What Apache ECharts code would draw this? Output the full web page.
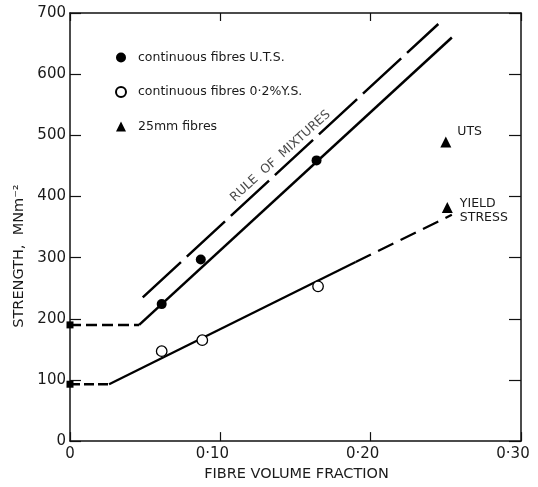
<!DOCTYPE html>
<html>
<head>
<meta charset="utf-8">
<script src="https://cdn.jsdelivr.net/npm/echarts@6/dist/echarts.min.js"></script>
<style>html,body{margin:0;padding:0;background:#fff;}#c{width:538px;height:487px;}</style>
</head>
<body>
<div id="c"></div>
<script>
// ---- data ----
const xTickLabels = ['0', '0·10', '0·20', '0·30'];
const yTickLabels = ['0', '100', '200', '300', '400', '500', '600', '700'];

const utsPoints = [[0.061, 224], [0.087, 297], [0.164, 459]];
const ysPoints = [[0.061, 147], [0.088, 165], [0.165, 253]];
const choppedPoints = [[0.250, 489], [0.251, 382]];
const choppedLabels = ['UTS', 'YIELD\nSTRESS'];
const matrixPoints = [[0, 190], [0, 93]];

const utsMatrixLine = [[0, 190], [0.046, 190]];
const utsFitLine = [[0.046, 190], [0.254, 660]];
const ruleOfMixturesLine = [[0.0484, 235], [0.245, 682]];
const ysMatrixLine = [[0, 93], [0.026, 93]];
const ysFitSolid = [[0.026, 93], [0.19, 293]];
const ysFitDashed = [[0.19, 293], [0.254, 370]];
const ruleLabelPos = [0.140, 466];

const FONT = 'DejaVu Sans';
const INK = '#1a1a1a';

const chart = echarts.init(document.getElementById('c'));

function lineSeries(data, type, width) {
  return {
    type: 'line', data: data, symbol: 'none', silent: true,
    lineStyle: { color: '#000', width: width || 2.5, type: type || 'solid', cap: 'butt' },
    z: 2, animation: false
  };
}

chart.setOption({
  animation: false,
  backgroundColor: '#fff',
  grid: { left: 70, right: 17, top: 13, bottom: 42 },
  legend: {
    orient: 'vertical', left: 110, top: 46, itemWidth: 10, itemHeight: 10, itemGap: 21.5,
    textStyle: { fontFamily: FONT, fontSize: 12.5, color: INK, padding: [0, 0, 0, 7] },
    data: [
      { name: 'continuous fibres U.T.S.', icon: 'circle' },
      { name: 'continuous fibres 0·2%Y.S.', icon: 'circle' },
      { name: '25mm fibres', icon: 'triangle' }
    ]
  },
  xAxis: [{
    type: 'value', min: 0, max: 0.3, interval: 0.1,
    name: 'FIBRE VOLUME FRACTION', nameLocation: 'middle', nameGap: 21,
    nameTextStyle: { fontFamily: FONT, fontSize: 14.5, color: INK, padding: [0, 0, 0, 2] },
    axisLine: { show: true, onZero: false, lineStyle: { color: '#111', width: 1.5 } },
    axisTick: { show: true, inside: true, length: 9, lineStyle: { color: '#111', width: 1.2 } },
    splitLine: { show: false },
    axisLabel: {
      margin: 6,
      formatter: function (v) {
        const i = Math.round(v / 0.1);
        return i === 0 ? '{z|' + xTickLabels[i] + '}' : '{n|' + xTickLabels[i] + '}';
      },
      rich: {
        z: { fontFamily: FONT, fontSize: 15, color: INK },
        n: { fontFamily: FONT, fontSize: 15, color: INK, padding: [0, 16, 0, 0] }
      }
    }
  }, {
    type: 'value', min: 0, max: 0.3, interval: 0.1, position: 'top',
    axisLine: { show: true, onZero: false, lineStyle: { color: '#111', width: 1.5 } },
    axisTick: { show: true, inside: true, length: 8, lineStyle: { color: '#111', width: 1.2 } },
    axisLabel: { show: false }, splitLine: { show: false }
  }],
  yAxis: [{
    type: 'value', min: 0, max: 700, interval: 100,
    name: 'STRENGTH,  MNm⁻²', nameLocation: 'middle', nameGap: 43,
    nameTextStyle: { fontFamily: FONT, fontSize: 14.5, color: INK, padding: [0, 58, 0, 0] },
    axisLine: { show: true, onZero: false, lineStyle: { color: '#111', width: 1.5 } },
    axisTick: { show: true, inside: true, length: 11, lineStyle: { color: '#111', width: 1.2 } },
    splitLine: { show: false },
    axisLabel: {
      margin: 4, fontFamily: FONT, fontSize: 15, color: INK,
      formatter: function (v) { return yTickLabels[Math.round(v / 100)]; }
    }
  }, {
    type: 'value', min: 0, max: 700, interval: 100, position: 'right',
    axisLine: { show: true, onZero: false, lineStyle: { color: '#111', width: 1.5 } },
    axisTick: { show: true, inside: true, length: 12, lineStyle: { color: '#111', width: 1.2 } },
    axisLabel: { show: false }, splitLine: { show: false }
  }],
  series: [
    lineSeries(utsMatrixLine, [11, 5], 2.5),
    lineSeries(utsFitLine, 'solid', 2.5),
    lineSeries(ruleOfMixturesLine, [52, 8], 2.5),
    lineSeries(ysMatrixLine, [10, 4], 2.5),
    lineSeries(ysFitSolid, 'solid', 2.3),
    lineSeries(ysFitDashed, [17, 8], 2.3),
    {
      type: 'scatter', name: 'matrix', data: matrixPoints, symbol: 'rect', symbolSize: 7,
      itemStyle: { color: '#000', opacity: 1 }, z: 4
    },
    {
      type: 'scatter', name: 'continuous fibres U.T.S.', data: utsPoints,
      symbol: 'circle', symbolSize: 10, itemStyle: { color: '#000', opacity: 1 }, z: 5
    },
    {
      type: 'scatter', name: 'continuous fibres 0·2%Y.S.', data: ysPoints,
      symbol: 'circle', symbolSize: 10.5,
      itemStyle: { color: '#fff', borderColor: '#000', borderWidth: 1.3, opacity: 1 }, z: 5
    },
    {
      type: 'scatter', name: '25mm fibres',
      data: choppedPoints.map(function (p, i) {
        return { value: p, label: { formatter: choppedLabels[i], offset: i === 0 ? [0, -10] : [1, 3] } };
      }),
      symbol: 'triangle', symbolSize: 11, itemStyle: { color: '#000', opacity: 1 }, z: 5,
      label: {
        show: true, position: 'right', distance: 6,
        fontFamily: FONT, fontSize: 12.5, color: INK, lineHeight: 14, align: 'left'
      }
    },
    {
      type: 'scatter', name: 'rule label', data: [ruleLabelPos], symbolSize: 0, silent: true,
      label: {
        show: true, position: 'inside', rotate: 42, formatter: 'RULE  OF  MIXTURES',
        fontFamily: FONT, fontSize: 12.5, color: INK
      }, z: 6
    }
  ]
});
</script>
</body>
</html>
